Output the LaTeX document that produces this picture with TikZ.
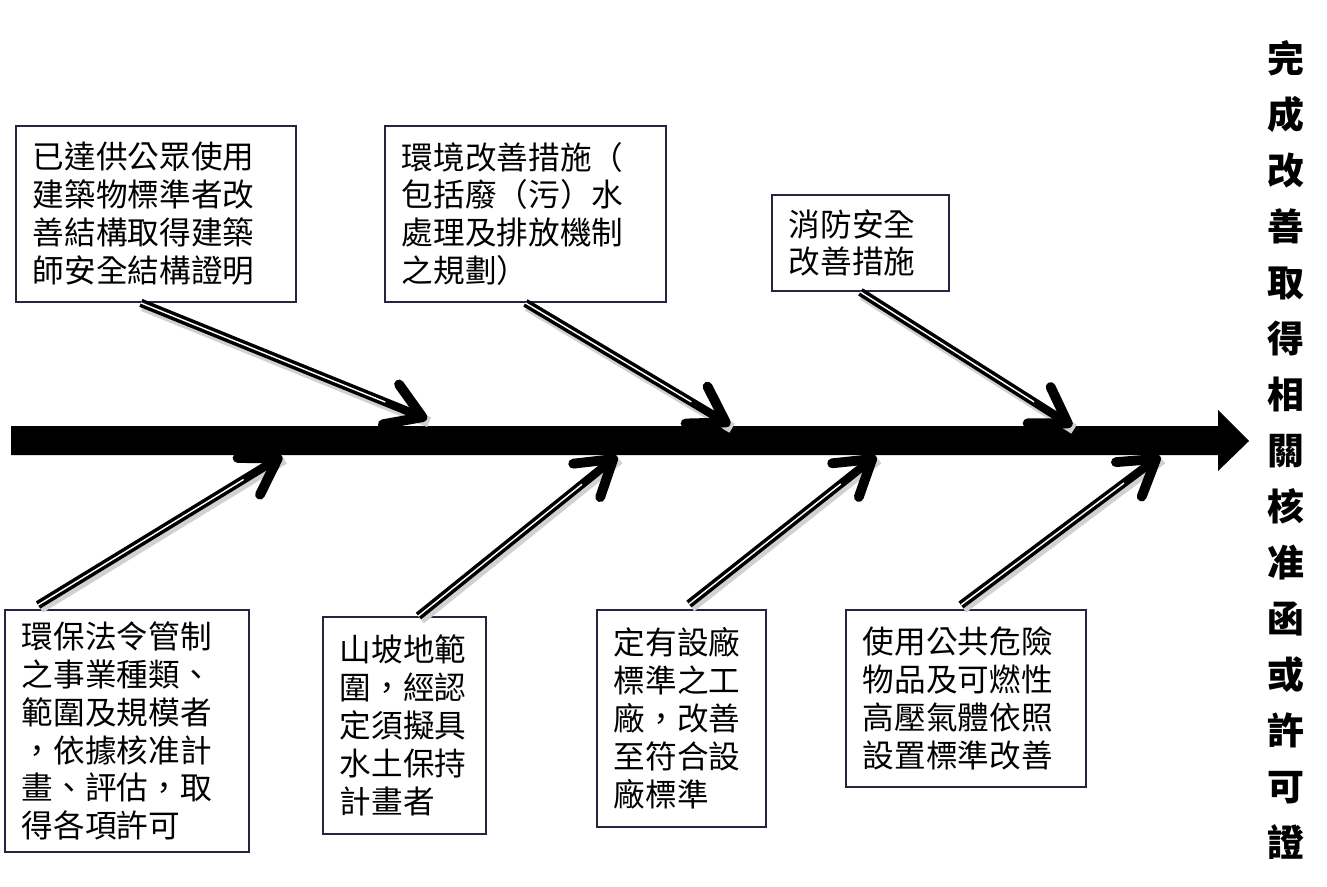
\documentclass[tikz,border=0pt]{standalone}
\usepackage{fontspec}
\newfontfamily\cjk{Noto Sans CJK TC}
\usetikzlibrary{arrows.meta}
\definecolor{boxline}{RGB}{35,38,62}
\tikzset{
	cause/.style={draw=boxline, line width=1.1pt, anchor=north west, align=left, inner xsep=0.34cm, inner ysep=0pt, font=\cjk\fontsize{18}{21.6}\selectfont},
	bone/.style={line width=4.8pt, -{Straight Barb[length=0.68cm, width=0.86cm, line width=5.6pt, round]}, preaction={draw=black!18, line width=6pt, -, transform canvas={xshift=1.2pt, yshift=-1.8pt}}, postaction={draw=white, line width=0.8pt, -, shorten >=0.9cm}},
	goal/.style={align=center, font=\cjk\bfseries\fontsize{21}{31.9}\selectfont}
}
\begin{document}
\begin{tikzpicture}[x=0.02cm, y=-0.02cm]
				\useasboundingbox (0,0) rectangle (1327,886);
				
				\fill (11,426) -- (1218,426) -- (1218,410) -- (1249,441) -- (1218,471) -- (1218,455) -- (11,455) -- cycle;
				
				\node[cause, text width=4.92cm, minimum height=3.52cm] (b1) at (15,125) {已達供公眾使用\\建築物標準者改\\善結構取得建築\\師安全結構證明};
				\node[cause, text width=4.94cm, minimum height=3.52cm] (b2) at (384,125) {環境改善措施（\\包括廢（污）水\\處理及排放機制\\之規劃）};
				\node[cause, text width=2.86cm, minimum height=1.92cm] (b3) at (771,194) {消防安全\\改善措施};
				
				\node[cause, text width=4.20cm, minimum height=4.84cm] (b4) at (4,609) {環保法令管制\\之事業種類、\\範圍及規模者\\，依據核准計\\畫、評估，取\\得各項許可};
				\node[cause, text width=2.58cm, minimum height=4.34cm] (b5) at (322,616) {山坡地範\\圍，經認\\定須擬具\\水土保持\\計畫者};
				\node[cause, text width=2.70cm, minimum height=4.34cm] (b6) at (596,609) {定有設廠\\標準之工\\廠，改善\\至符合設\\廠標準};
				\node[cause, text width=4.12cm, minimum height=3.54cm] (b7) at (845,609) {使用公共危險\\物品及可燃性\\高壓氣體依照\\設置標準改善};
				
				\node[goal] (g) at (1286,450) {完\\成\\改\\善\\取\\得\\相\\關\\核\\准\\函\\或\\許\\可\\證};
				
				\coordinate (t1) at (427,419);
				\coordinate (t2) at (730,425);
				\coordinate (t3) at (1072,426);
				\coordinate (t4) at (282,456);
				\coordinate (t5) at (617,456);
				\coordinate (t6) at (876,456);
				\coordinate (t7) at (1160,456);
				
				\draw[bone] ([xshift=-0.3cm]b1.south) -- (t1);
				\draw[bone] (b2.south) -- (t2);
				\draw[bone] (b3.south) -- (t3);
				\draw[bone] ([xshift=0.68cm,yshift=0.08cm]b4.north west) -- (t4);
				\draw[bone] ([xshift=0.28cm]b5.north) -- (t5);
				\draw[bone] ([xshift=0.15cm,yshift=0.1cm]b6.north) -- (t6);
				\draw[bone] ([xshift=-0.1cm,yshift=0.08cm]b7.north) -- (t7);
			\end{tikzpicture}
\end{document}
